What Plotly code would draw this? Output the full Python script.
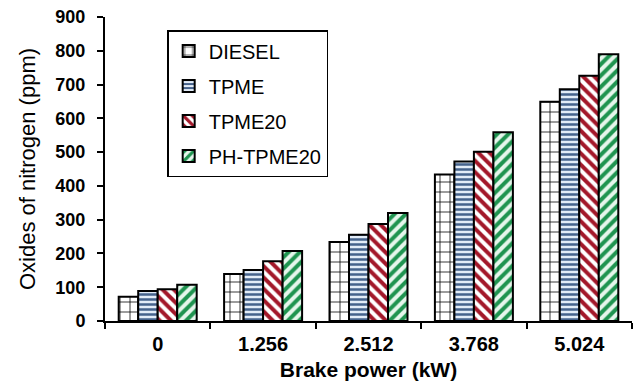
import plotly.graph_objects as go

# Brake power levels (kW) on the x axis
brake_power = ["0", "1.256", "2.512", "3.768", "5.024"]

# NOx emissions (ppm) for each fuel
diesel = [72, 139, 234, 434, 649]
tpme = [89, 151, 255, 472, 686]
tpme20 = [94, 177, 287, 501, 726]
ph_tpme20 = [107, 207, 320, 559, 790]

series = [
    ("DIESEL", diesel, dict(shape="+", fgcolor="#000000", bgcolor="#ffffff", size=10, solidity=0.15)),
    ("TPME", tpme, dict(shape="-", fgcolor="#45628c", bgcolor="#e2ecf8", size=5, solidity=0.5)),
    ("TPME20", tpme20, dict(shape="\\", fgcolor="#a3182a", bgcolor="#ffffff", size=8, solidity=0.5)),
    ("PH-TPME20", ph_tpme20, dict(shape="/", fgcolor="#1f9450", bgcolor="#e6f6ec", size=8, solidity=0.5)),
]

fig = go.Figure()
for i, (name, vals, pat) in enumerate(series):
    fig.add_trace(go.Bar(
        x=brake_power, y=vals, name=name, legendgroup=f"g{i}",
        marker=dict(color=pat["bgcolor"], pattern=dict(pat, fgopacity=1, fillmode="replace"),
                    line=dict(color="#000000", width=2)),
    ))

font_family = "Liberation Sans, Arial, sans-serif"

fig.update_layout(
    width=640, height=391,
    margin=dict(l=105, r=8, t=17, b=70),
    paper_bgcolor="white", plot_bgcolor="white",
    barmode="group", bargap=0.26, bargroupgap=0,
    font=dict(family=font_family, color="#000000"),
    legend=dict(
        x=0.118, y=0.957, xanchor="left", yanchor="top",
        bgcolor="white", bordercolor="#000000", borderwidth=1.5,
        font=dict(size=20, family=font_family),
        tracegroupgap=6, traceorder="grouped",
    ),
    showlegend=True,
)

fig.update_xaxes(
    type="category", tickson="boundaries",
    ticks="outside", ticklen=6, tickwidth=2, tickcolor="#000000",
    showline=True, linecolor="#000000", linewidth=2,
    showgrid=False, automargin=False, ticklabelstandoff=4,
    tickfont=dict(size=20, family=font_family, weight="bold"),
    title=dict(text="Brake power (kW)", font=dict(size=21, weight="bold"), standoff=8),
)
fig.update_yaxes(
    range=[0, 900], dtick=100,
    ticks="outside", ticklen=6, tickwidth=2, tickcolor="#000000",
    showline=True, linecolor="#000000", linewidth=2,
    showgrid=False, zeroline=False, automargin=False, ticklabelstandoff=8,
    tickfont=dict(size=18, family=font_family, weight="bold"),
    title=dict(text="Oxides of nitrogen (ppm)", font=dict(size=22), standoff=14),
)

fig.write_html("out.html")
